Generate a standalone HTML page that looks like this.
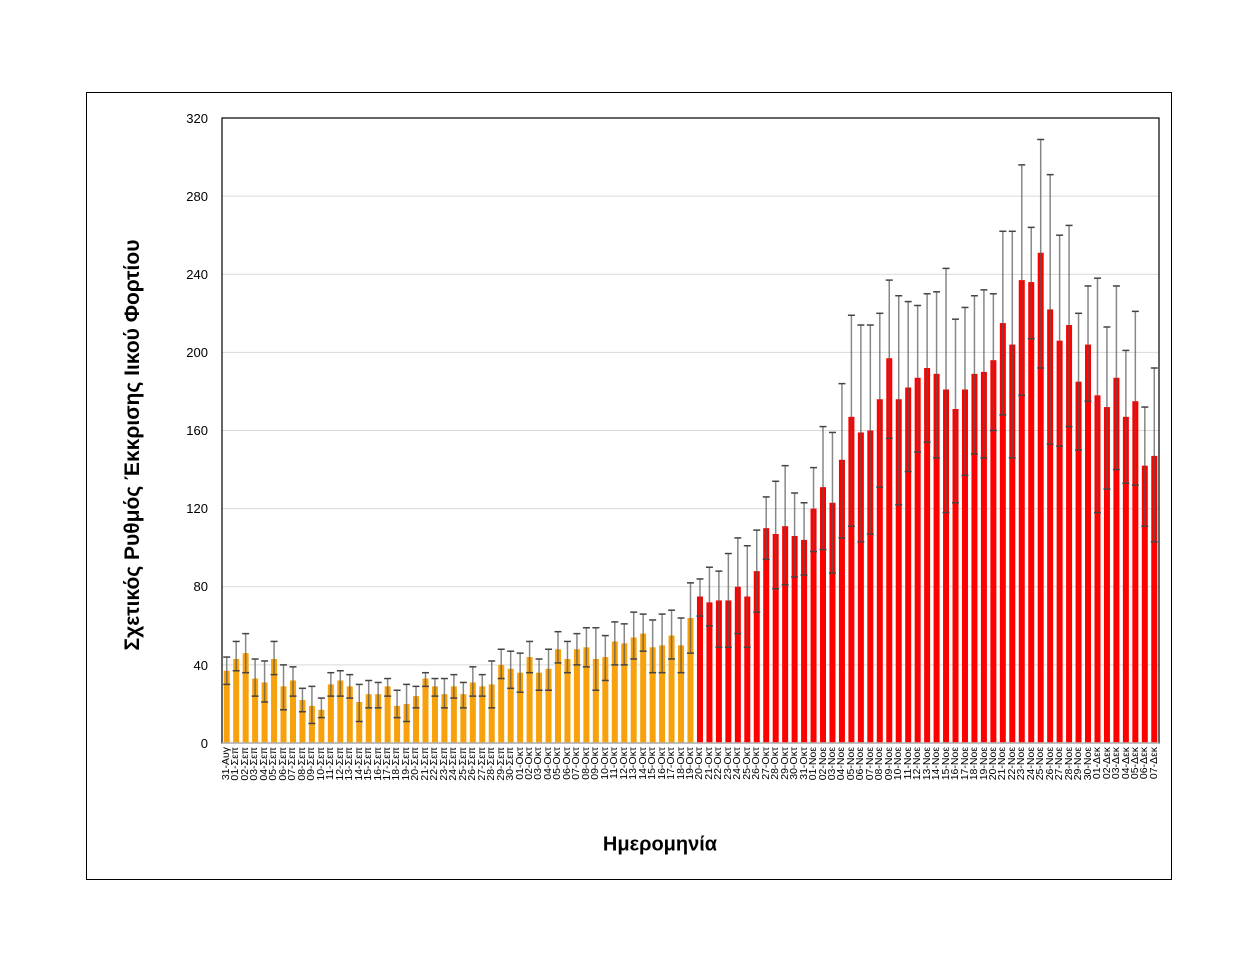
<!DOCTYPE html>
<html><head><meta charset="utf-8">
<style>
body{margin:0;background:#fff;width:1260px;height:974px;position:relative;overflow:hidden;font-family:"Liberation Sans","DejaVu Sans",sans-serif;}
#frame{position:absolute;left:86px;top:92px;width:1086px;height:788px;border:1px solid #000;box-sizing:border-box;}
#labels{position:absolute;left:222px;top:747px;width:937px;display:flex;align-items:flex-start;}
#labels span{flex:1;writing-mode:vertical-rl;transform:rotate(180deg);font-size:10.5px;line-height:9.4px;color:#000;white-space:nowrap;}
.yt{position:absolute;width:40px;text-align:right;left:168px;font-size:13px;color:#000;}
#ytitle{position:absolute;left:133px;top:445px;transform:translate(-50%,-50%) rotate(-90deg);font-weight:bold;font-size:21px;white-space:nowrap;}
#xtitle{position:absolute;left:660px;top:845px;transform:translate(-50%,-50%);font-weight:bold;font-size:20px;}
</style></head><body>
<div id="frame"></div>
<svg id="s" width="1260" height="974" style="position:absolute;left:0;top:0"></svg>
<div class="yt" style="top:111px">320</div>
<div class="yt" style="top:189px">280</div>
<div class="yt" style="top:267px">240</div>
<div class="yt" style="top:345px">200</div>
<div class="yt" style="top:423px">160</div>
<div class="yt" style="top:501px">120</div>
<div class="yt" style="top:579px">80</div>
<div class="yt" style="top:658px">40</div>
<div class="yt" style="top:736px">0</div>
<div id="ytitle">Σχετικός Ρυθμός Έκκρισης Ιικού Φορτίου</div>
<div id="xtitle">Ημερομηνία</div>
<div id="labels"><span>31-Αυγ</span><span>01-Σεπ</span><span>02-Σεπ</span><span>03-Σεπ</span><span>04-Σεπ</span><span>05-Σεπ</span><span>06-Σεπ</span><span>07-Σεπ</span><span>08-Σεπ</span><span>09-Σεπ</span><span>10-Σεπ</span><span>11-Σεπ</span><span>12-Σεπ</span><span>13-Σεπ</span><span>14-Σεπ</span><span>15-Σεπ</span><span>16-Σεπ</span><span>17-Σεπ</span><span>18-Σεπ</span><span>19-Σεπ</span><span>20-Σεπ</span><span>21-Σεπ</span><span>22-Σεπ</span><span>23-Σεπ</span><span>24-Σεπ</span><span>25-Σεπ</span><span>26-Σεπ</span><span>27-Σεπ</span><span>28-Σεπ</span><span>29-Σεπ</span><span>30-Σεπ</span><span>01-Οκτ</span><span>02-Οκτ</span><span>03-Οκτ</span><span>04-Οκτ</span><span>05-Οκτ</span><span>06-Οκτ</span><span>07-Οκτ</span><span>08-Οκτ</span><span>09-Οκτ</span><span>10-Οκτ</span><span>11-Οκτ</span><span>12-Οκτ</span><span>13-Οκτ</span><span>14-Οκτ</span><span>15-Οκτ</span><span>16-Οκτ</span><span>17-Οκτ</span><span>18-Οκτ</span><span>19-Οκτ</span><span>20-Οκτ</span><span>21-Οκτ</span><span>22-Οκτ</span><span>23-Οκτ</span><span>24-Οκτ</span><span>25-Οκτ</span><span>26-Οκτ</span><span>27-Οκτ</span><span>28-Οκτ</span><span>29-Οκτ</span><span>30-Οκτ</span><span>31-Οκτ</span><span>01-Νοε</span><span>02-Νοε</span><span>03-Νοε</span><span>04-Νοε</span><span>05-Νοε</span><span>06-Νοε</span><span>07-Νοε</span><span>08-Νοε</span><span>09-Νοε</span><span>10-Νοε</span><span>11-Νοε</span><span>12-Νοε</span><span>13-Νοε</span><span>14-Νοε</span><span>15-Νοε</span><span>16-Νοε</span><span>17-Νοε</span><span>18-Νοε</span><span>19-Νοε</span><span>20-Νοε</span><span>21-Νοε</span><span>22-Νοε</span><span>23-Νοε</span><span>24-Νοε</span><span>25-Νοε</span><span>26-Νοε</span><span>27-Νοε</span><span>28-Νοε</span><span>29-Νοε</span><span>30-Νοε</span><span>01-Δεκ</span><span>02-Δεκ</span><span>03-Δεκ</span><span>04-Δεκ</span><span>05-Δεκ</span><span>06-Δεκ</span><span>07-Δεκ</span></div>
<script>
var d=[[37,30,44],[43,37,52],[46,36,56],[33,24,43],[31,21,42],[43,35,52],[29,17,40],[32,24,39],[22,16,28],[19,10,29],[17,13,23],[30,24,36],[32,24,37],[29,23,35],[21,11,30],[25,18,32],[25,18,31],[29,24,33],[19,13,27],[20,11,30],[24,18,29],[33,29,36],[29,24,33],[25,18,33],[29,23,35],[25,18,31],[31,24,39],[29,24,35],[30,18,42],[40,33,48],[38,28,47],[36,26,46],[44,36,52],[36,27,43],[38,27,48],[48,41,57],[43,36,52],[48,40,56],[49,39,59],[43,27,59],[44,32,55],[52,40,62],[51,40,61],[54,43,67],[56,47,66],[49,36,63],[50,36,66],[55,43,68],[50,36,64],[64,46,82],
[75,65,84],[72,60,90],[73,49,88],[73,49,97],[80,56,105],[75,49,101],[88,67,109],[110,94,126],[107,79,134],[111,81,142],[106,85,128],[104,86,123],[120,98,141],[131,99,162],[123,87,159],[145,105,184],[167,111,219],[159,103,214],[160,107,214],[176,131,220],[197,156,237],[176,122,229],[182,139,226],[187,149,224],[192,154,230],[189,146,231],[181,118,243],[171,123,217],[181,137,223],[189,148,229],[190,146,232],[196,160,230],[215,168,262],[204,146,262],[237,178,296],[236,207,264],[251,192,309],[222,153,291],[206,152,260],[214,162,265],[185,150,220],[204,175,234],[178,118,238],[172,130,213],[187,140,234],[167,133,201],[175,132,221],[142,111,172],[147,103,192]];
var s='',X0=222,W=937,Y0=743,k=625/320,bw=W/99;
for(var g=40;g<=280;g+=40){var y=Y0-g*k;s+='<line x1="222" x2="1159" y1="'+y+'" y2="'+y+'" stroke="#d9d9d9" stroke-width="1"/>';}
d.forEach(function(v,i){var cx=X0+(i+0.5)*bw,c=i<50?'#f7a10d':'#ff0000';
var yt=Y0-v[0]*k,yl=Y0-v[1]*k,yh=Y0-v[2]*k;
s+='<rect x="'+(cx-3)+'" y="'+yt+'" width="6" height="'+(Y0-yt)+'" fill="'+c+'"/>';
s+='<line x1="'+cx+'" x2="'+cx+'" y1="'+yh+'" y2="'+yl+'" stroke="#555" stroke-opacity="0.7" stroke-width="1.5"/>';
s+='<line x1="'+(cx-3.5)+'" x2="'+(cx+3.5)+'" y1="'+yh+'" y2="'+yh+'" stroke="#444" stroke-width="1.5"/>';
s+='<line x1="'+(cx-3.5)+'" x2="'+(cx+3.5)+'" y1="'+yl+'" y2="'+yl+'" stroke="#444" stroke-width="1.5"/>';});
s+='<rect x="222" y="118" width="937" height="625" fill="none" stroke="#000" stroke-width="1.2"/>';
s+='<line x1="222" x2="1159" y1="743" y2="743" stroke="#bbb" stroke-width="1.5"/>';
document.getElementById('s').innerHTML=s;
</script>
</body></html>
